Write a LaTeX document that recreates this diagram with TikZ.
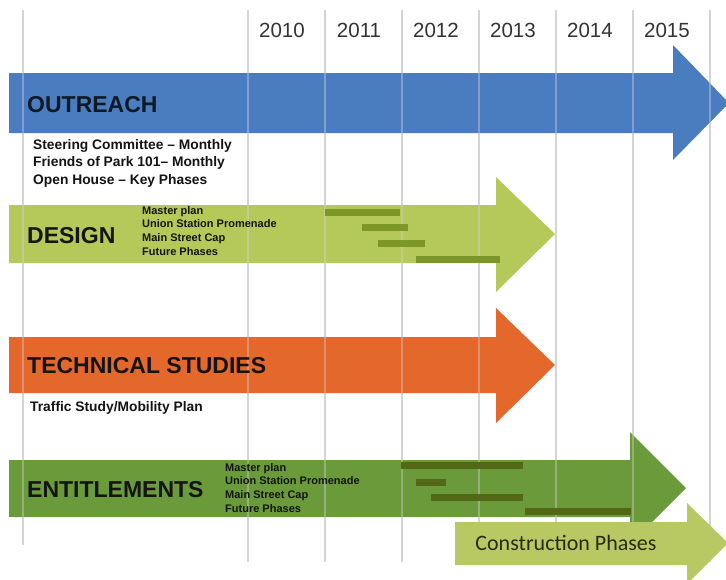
\documentclass[tikz,border=0pt]{standalone}
\usepackage{fontspec}
\setmainfont{Liberation Sans}
\newfontfamily\calibri{Carlito}
\usepackage{tikz}
\usetikzlibrary{calc}

\definecolor{gridgray}{HTML}{D4D4D4}
\definecolor{outblue}{HTML}{4A7DBF}
\definecolor{desgreen}{HTML}{B5C95A}
\definecolor{techorange}{HTML}{E4672C}
\definecolor{entgreen}{HTML}{6A9A3A}
\definecolor{congreen}{HTML}{B8C964}
\definecolor{desbar}{HTML}{7D9628}
\definecolor{entbar}{HTML}{526816}
\definecolor{titletext}{HTML}{141414}
\definecolor{yeartext}{HTML}{333333}

\begin{document}
\begin{tikzpicture}[x=1pt,y=-1pt,
	gridline/.style={draw=gridgray,line width=2pt},
	year/.style={text=yeartext,font=\fontsize{20.5}{20.5}\selectfont,inner sep=0pt},
	title/.style={anchor=west,text=titletext,inner sep=0pt,font=\fontsize{23}{23}\selectfont\bfseries},
	note/.style={anchor=north west,align=left,inner sep=0pt,text=titletext,font=\fontsize{13.8}{17.5}\selectfont\bfseries},
	phase/.style={anchor=north west,align=left,inner sep=0pt,text=titletext,font=\fontsize{11}{13.8}\selectfont\bfseries},
	gantt/.style={line width=7pt}]
	\useasboundingbox (0,0) rectangle (726,579);
	\fill[white] (0,0) rectangle (726,579);
	%% year columns drawn with a loop
	\draw[gridline] (23,10) -- (23,545);
	\foreach \yr [count=\k from 0] in {2010,2011,2012,2013,2014,2015}{
		\draw[gridline] (248+77*\k,10) -- (248+77*\k,562);
		\node[year] (y\yr) at (282+77*\k,30) {\yr};
		}
	\draw[gridline] (710,10) -- (710,562);
	%% the four big arrows, by hand
	\fill[outblue] (9,73) -- (673,73) -- (673,45) -- (729,103) -- (673,160) -- (673,133) -- (9,133) -- cycle;
	\fill[desgreen] (9,205) -- (496,205) -- (496,177) -- (555,234) -- (496,292) -- (496,263) -- (9,263) -- cycle;
	\fill[techorange] (9,337) -- (496,337) -- (496,308) -- (555,365) -- (496,423) -- (496,393) -- (9,393) -- cycle;
	\fill[entgreen] (9,460) -- (630,460) -- (630,432) -- (686,488) -- (630,544) -- (630,517) -- (9,517) -- cycle;
	%% grid shows faintly through the arrows
	\foreach \x in {23,248,325,402,479,556,633,710}
		\draw[gridline,opacity=.4] (\x,45) -- (\x,545);
	%% schedule bars
	\draw[gantt,desbar] (325,212) -- (400,212);
	\draw[gantt,desbar] (362,227) -- (408,227);
	\draw[gantt,desbar] (378,243) -- (425,243);
	\draw[gantt,desbar] (416,259) -- (500,259);
	\draw[gantt,entbar] (401,465) -- (523,465);
	\draw[gantt,entbar] (416,482) -- (446,482);
	\draw[gantt,entbar] (431,497) -- (523,497);
	\draw[gantt,entbar] (525,511) -- (631,511);
	%% construction arrow sits on top
	\fill[congreen] (455,522) -- (687,522) -- (687,503) -- (728,543) -- (687,584) -- (687,565) -- (455,565) -- cycle;
	%% labels
	\node[title,text=outblue!20!black] (outreach) at (27,105) {OUTREACH};
	\node[title] (design) at (27,236) {DESIGN};
	\node[title] (tech) at (27,366) {TECHNICAL STUDIES};
	\node[title] (ent) at (27,490) {ENTITLEMENTS};
	\node[note] (outnotes) at (33,139) {Steering Committee -- Monthly\\Friends of Park 101-- Monthly\\Open House -- Key Phases};
	\node[note] (technotes) at (30,401) {Traffic Study/Mobility Plan};
	\node[phase] (desphases) at (142,206) {Master plan\\Union Station Promenade\\Main Street Cap\\Future Phases};
	\node[phase] (entphases) at (225,463) {Master plan\\Union Station Promenade\\Main Street Cap\\Future Phases};
	\node[text=titletext!80!olive,font=\calibri\fontsize{22}{22}\selectfont,inner sep=0pt] (cons) at (566,543) {Construction Phases};
\end{tikzpicture}
\end{document}
